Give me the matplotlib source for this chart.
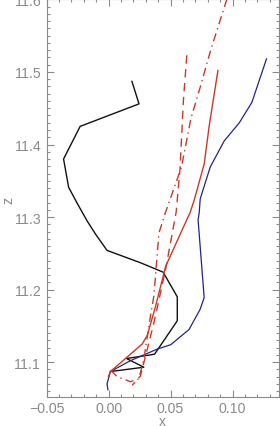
import matplotlib
matplotlib.use("Agg")
import matplotlib.pyplot as plt
from matplotlib.ticker import MultipleLocator, FuncFormatter

# Data (x, z)
black_x = [0.0188, 0.0245, -0.0230, -0.0364, -0.0323, -0.0254, -0.0175, -0.0108, -0.0013,
           0.0257, 0.0440, 0.0554, 0.0554, 0.0371, 0.0338, 0.0144, 0.0284, 0.0014]
black_z = [11.487, 11.456, 11.425, 11.380, 11.341, 11.319, 11.295, 11.277, 11.254,
           11.237, 11.224, 11.190, 11.157, 11.111, 11.110, 11.105, 11.093, 11.087]

blue_x = [0.1274, 0.1156, 0.1055, 0.0933, 0.0820, 0.0785, 0.0739, 0.0731, 0.0722, 0.0771,
          0.0739, 0.0649, 0.0501, 0.0393, 0.0257, 0.0176, 0.0014, -0.0013, -0.0006]
blue_z = [11.518, 11.458, 11.430, 11.405, 11.369, 11.350, 11.325, 11.306, 11.296, 11.189,
          11.173, 11.145, 11.124, 11.118, 11.108, 11.102, 11.087, 11.070, 11.062]

red_solid_x = [0.0882, 0.0812, 0.0771, 0.0690, 0.0657, 0.0582, 0.0460, 0.0379, 0.0312,
               0.0271, 0.0014, -0.0002]
red_solid_z = [11.502, 11.426, 11.373, 11.323, 11.306, 11.278, 11.232, 11.177, 11.137,
               11.125, 11.087, 11.080]

red_dash_x = [0.0631, 0.0604, 0.0576, 0.0545, 0.0460, 0.0365, 0.0257, 0.0190]
red_dash_z = [11.523, 11.462, 11.366, 11.307, 11.228, 11.154, 11.081, 11.068]

red_dashdot_x = [0.0980, 0.0825, 0.0739, 0.0663, 0.0588, 0.0460, 0.0406, 0.0365, 0.0338,
                 0.0284, 0.0244, 0.0176, 0.0068, 0.0010]
red_dashdot_z = [11.614, 11.531, 11.479, 11.435, 11.369, 11.307, 11.278, 11.191, 11.164,
                 11.104, 11.077, 11.073, 11.080, 11.090]

RED = "#c83a26"
BLUE = "#22228a"
GRAY = "#8a8a8a"

plt.rcParams["font.family"] = ["Liberation Sans", "DejaVu Sans"]

fig = plt.figure(figsize=(2.80, 4.27), dpi=100)
ax = fig.add_axes([0.1668, 0.0672, 0.9964 - 0.1668, 0.999 - 0.0672])

ax.plot(black_x, black_z, color="#111111", lw=1.0)
ax.plot(blue_x, blue_z, color=BLUE, lw=0.9)
ax.plot(red_solid_x, red_solid_z, color=RED, lw=1.0)
ax.plot(red_dash_x, red_dash_z, color=RED, lw=1.0, dashes=(6, 4))
ax.plot(red_dashdot_x, red_dashdot_z, color=RED, lw=1.0, dashes=(6, 3, 1, 3))

ax.set_xlim(-0.05, 0.1375)
ax.set_ylim(11.0515, 11.6)

ax.xaxis.set_major_locator(MultipleLocator(0.05))
ax.xaxis.set_minor_locator(MultipleLocator(0.01))
ax.yaxis.set_major_locator(MultipleLocator(0.1))
ax.yaxis.set_minor_locator(MultipleLocator(0.01))
ax.xaxis.set_major_formatter(FuncFormatter(lambda v, p: f"{v:.2f}".replace("-", "\u2212")))
ax.yaxis.set_major_formatter(FuncFormatter(lambda v, p: f"{v:.1f}"))

ax.tick_params(which="both", direction="in", top=True, right=True, colors=GRAY,
               labelcolor=GRAY, labelsize=10.2, width=0.8, pad=4.0)
ax.tick_params(axis="x", pad=3.0)
ax.tick_params(which="major", length=5)
ax.tick_params(which="minor", length=2.5)
for s in ax.spines.values():
    s.set_color(GRAY)
    s.set_linewidth(0.8)

ax.set_xlabel("x", color=GRAY, fontsize=10, va="center")
ax.xaxis.set_label_coords(0.499, -0.059)
ax.set_ylabel("z", color=GRAY, fontsize=10.2, va="center")
ax.yaxis.set_label_coords(-0.167, 0.497)

fig.savefig("out.png", dpi=100)
